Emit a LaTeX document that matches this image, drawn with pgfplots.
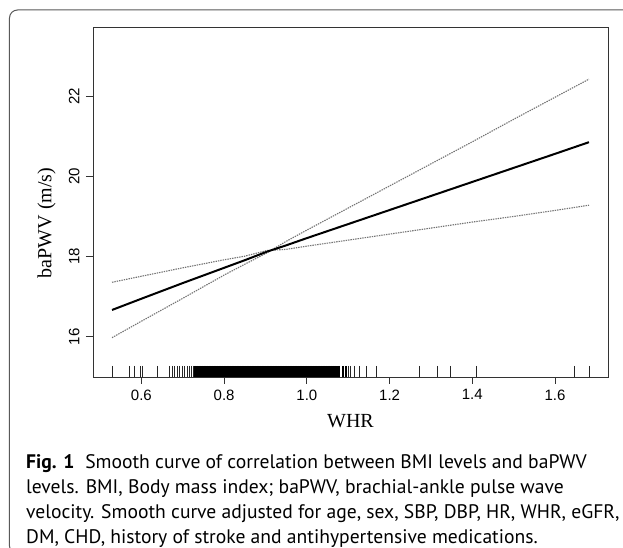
\documentclass[border=0pt]{standalone}
\usepackage{fontspec}
\usepackage{pgfplots}
\pgfplotsset{compat=1.18}
\newfontfamily\arialfont{Liberation Sans}
\newfontfamily\timesfont{Liberation Serif}
\newfontfamily\capfont{PT Sans}

\begin{document}
\begin{tikzpicture}
% picture frame is 623pt x 548pt; the axis box sits with its lower-left corner at (0,0)
\fill[white] (-93pt,-171pt) rectangle (530pt,377pt);

\begin{axis}[
  scale only axis, width=515pt, height=350pt,
  xmin=0.483, xmax=1.728, ymin=15.0, ymax=23.72,
  axis line style={black!80, line width=0.9pt},
  tick style={black!80, line width=0.9pt},
  tick align=outside, major tick length=7pt,
  xtick={0.6,0.8,1.0,1.2,1.4,1.6},
  ytick={16,18,20,22},
  xtick pos=bottom, ytick pos=left,
  /pgf/number format/assume math mode=true,
  tick label style={font=\arialfont\fontsize{15}{18}\selectfont},
  xticklabel style={/pgf/number format/fixed, /pgf/number format/fixed zerofill, /pgf/number format/precision=1},
  xticklabel shift=2pt,
  yticklabel style={rotate=90, anchor=south},
  yticklabel shift=3pt,
  xlabel={WHR}, ylabel={baPWV (m/s)},
  label style={font=\timesfont\fontsize{20}{24}\selectfont},
  xlabel style={at={(axis description cs:0.5,-0.1457)}, anchor=base},
  ylabel style={at={(axis description cs:-0.0900,0.440)}, anchor=center},
]
% confidence bounds
\addplot[black!55, line width=1.1pt, dash pattern=on 1.4pt off 1pt] coordinates {
(0.529,15.98) (0.6,16.39) (0.7,16.96) (0.8,17.54) (0.85,17.81) (0.903,18.09) (0.95,18.38) (1.0,18.66) (1.1,19.21) (1.2,19.76) (1.3,20.31) (1.4,20.86) (1.5,21.42) (1.6,21.97) (1.682,22.42)};
\addplot[black!55, line width=1.1pt, dash pattern=on 1.4pt off 1pt] coordinates {
(0.529,17.36) (0.6,17.51) (0.7,17.72) (0.8,17.92) (0.85,18.01) (0.903,18.15) (0.95,18.18) (1.0,18.26) (1.1,18.41) (1.2,18.56) (1.3,18.71) (1.4,18.86) (1.5,19.00) (1.6,19.15) (1.682,19.28)};
% fitted curve
\addplot[black, line width=2pt] coordinates {
(0.529,16.67) (0.6,16.95) (0.7,17.34) (0.8,17.72) (0.85,17.91) (0.903,18.12) (0.95,18.28) (1.0,18.46) (1.1,18.81) (1.2,19.16) (1.3,19.51) (1.4,19.86) (1.5,20.21) (1.6,20.56) (1.682,20.85)};
% rug, sparse observations
\addplot[only marks, mark=|, mark size=5.5pt, mark options={yshift=5.5pt, line width=1pt, black!85}] coordinates {
(0.529,15) (0.572,15) (0.584,15) (0.597,15) (0.603,15) (0.639,15) (0.669,15) (0.675,15) (0.681,15) (0.687,15) (0.693,15) (0.699,15) (0.705,15) (0.711,15) (0.716,15) (0.721,15) (0.726,15)
(1.100,15) (1.106,15) (1.114,15) (1.127,15) (1.143,15) (1.169,15) (1.272,15) (1.315,15) (1.348,15) (1.411,15) (1.648,15) (1.683,15)};
% rug, dense observations
\addplot[only marks, mark=|, mark size=5.5pt, mark options={yshift=5.5pt, line width=2.4pt, black}] coordinates {
(0.730,15) (0.734,15) (0.738,15) (0.742,15) (0.746,15) (0.750,15) (0.754,15) (0.758,15) (0.762,15) (0.766,15)
(0.770,15) (0.774,15) (0.778,15) (0.782,15) (0.786,15) (0.790,15) (0.794,15) (0.798,15) (0.802,15) (0.806,15)
(0.810,15) (0.814,15) (0.818,15) (0.822,15) (0.826,15) (0.830,15) (0.834,15) (0.838,15) (0.842,15) (0.846,15)
(0.850,15) (0.854,15) (0.858,15) (0.862,15) (0.866,15) (0.870,15) (0.874,15) (0.878,15) (0.882,15) (0.886,15)
(0.890,15) (0.894,15) (0.898,15) (0.902,15) (0.906,15) (0.910,15) (0.914,15) (0.918,15) (0.922,15) (0.926,15)
(0.930,15) (0.934,15) (0.938,15) (0.942,15) (0.946,15) (0.950,15) (0.954,15) (0.958,15) (0.962,15) (0.966,15)
(0.970,15) (0.974,15) (0.978,15) (0.982,15) (0.986,15) (0.990,15) (0.994,15) (0.998,15) (1.002,15) (1.006,15)
(1.010,15) (1.014,15) (1.018,15) (1.022,15) (1.026,15) (1.030,15) (1.034,15) (1.038,15) (1.042,15) (1.046,15)
(1.050,15) (1.054,15) (1.058,15) (1.062,15) (1.068,15) (1.074,15) (1.078,15) (1.088,15) (1.094,15)};
\end{axis}

\begin{scope}[every node/.style={anchor=base west, inner sep=0pt, font=\capfont\fontsize{19.6}{25}\selectfont}]
\node at (-67pt,-91pt) {\textbf{Fig. 1}\hspace{0.55em}Smooth curve of correlation between BMI levels and baPWV};
\node at (-67pt,-116pt) {levels. BMI, Body mass index; baPWV, brachial-ankle pulse wave};
\node at (-67pt,-141pt) {velocity. Smooth curve adjusted for age, sex, SBP, DBP, HR, WHR, eGFR,};
\node at (-67pt,-166pt) {DM, CHD, history of stroke and antihypertensive medications.};
\end{scope}

\draw[black!65, line width=1pt, rounded corners=8pt] (-83.5pt,-177pt) rectangle (567pt,367pt);
\pgfresetboundingbox
\path[use as bounding box] (-93pt,-171pt) rectangle (530pt,377pt);
\end{tikzpicture}
\end{document}
